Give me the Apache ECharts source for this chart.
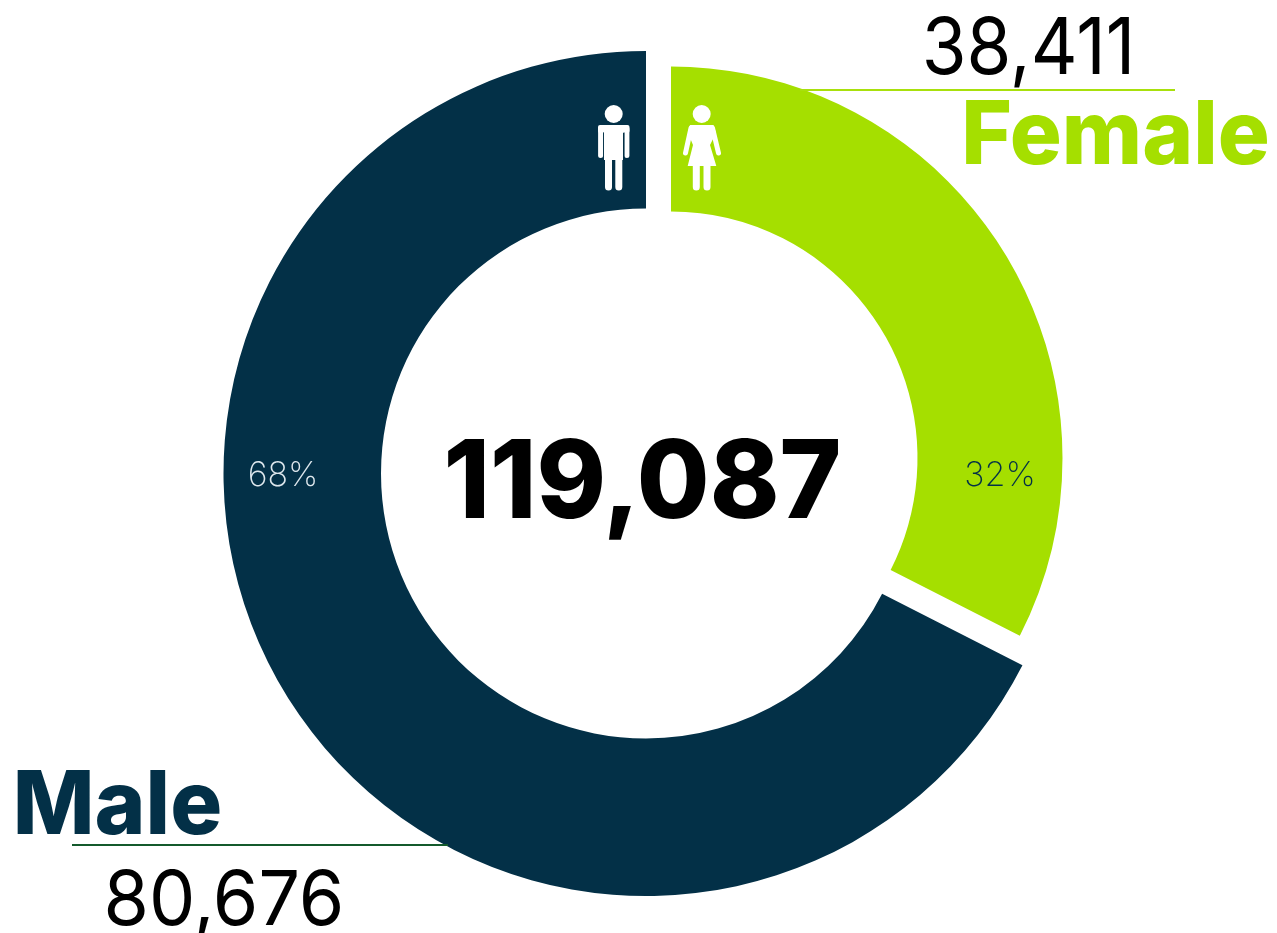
<!DOCTYPE html>
<html><head><meta charset="utf-8">
<style>html,body{margin:0;padding:0;background:#fff}#c{width:1277px;height:933px}</style>
<script src="https://cdn.jsdelivr.net/npm/echarts@6/dist/echarts.min.js"></script>
</head><body><div id="c"></div>
<script>
const categories = ['Female', 'Male'];
const arcShares = [32.5, 67.5];
const countLabels = ['38,411', '80,676'];
const shareLabels = ['32%', '68%'];
const totalLabel = '119,087';
const NAVY = '#033047', LIME = '#a5df00', FONT = 'Inter, "Liberation Sans", sans-serif';

function ring(center, radius, visibleIndex, color) {
  return {
    type: 'pie', center, radius, startAngle: 90, clockwise: true, silent: true,
    animation: false, label: {show: false}, labelLine: {show: false},
    emphasis: {disabled: true},
    data: categories.map((name, i) => ({
      name, value: arcShares[i],
      itemStyle: {color: i === visibleIndex ? color : 'rgba(0,0,0,0)'}
    }))
  };
}
function txt(text, x, y, size, weight, fill, sx) {
  return {type: 'text', silent: true, z: 20, x, y, scaleX: sx || 1, style: {
    text, x: 0, y: 0, fill, font: weight + ' ' + size + 'px ' + FONT,
    textAlign: 'center', textVerticalAlign: 'middle'}};
}
function rule(x1, x2, y, stroke) {
  return {type: 'line', silent: true, z: 20, shape: {x1, y1: y, x2, y2: y}, style: {stroke, lineWidth: 2}};
}
const white = {fill: '#fff'};
const limb = (points, w) => ({type: 'polyline', silent: true, z: 20, shape: {points},
  style: {stroke: '#fff', fill: null, lineWidth: w, lineCap: 'round', lineJoin: 'round'}});
const poly = points => ({type: 'polygon', silent: true, z: 20, shape: {points}, style: white});
const dot = (cx, cy) => ({type: 'circle', silent: true, z: 20, shape: {cx, cy, r: 9}, style: white});
const seam = x => ({type: 'line', silent: true, z: 21, shape: {x1: x, y1: 132, x2: x, y2: 158}, style: {stroke: NAVY, lineWidth: 1, opacity: 0.6}});

const maleIcon = [
  dot(613.7, 114),
  {type: 'rect', silent: true, z: 20, shape: {x: 598, y: 125, width: 31.5, height: 8, r: 2}, style: white},
  poly([[604, 128], [623, 128], [623, 160], [604, 160]]),
  limb([[600.6, 129], [600.6, 155.5]], 5),
  limb([[626.9, 129], [626.9, 155.5]], 5),
  limb([[608.5, 158], [608.5, 187]], 7),
  limb([[618.8, 158], [618.8, 187]], 7),
  seam(603.5), seam(624)
];
const femaleIcon = [
  dot(701.7, 114),
  poly([[690, 125], [713.5, 125], [716, 133], [710, 145], [716.3, 166], [687.7, 166], [693, 145], [688, 133]]),
  limb([[691, 128], [685.5, 153]], 5),
  limb([[712.5, 128], [718.5, 153]], 5),
  limb([[696.3, 165], [696.3, 187]], 7),
  limb([[707, 165], [707, 187]], 7)
];

const chart = echarts.init(document.getElementById('c'), null, {renderer: 'canvas'});
chart.setOption({
  backgroundColor: '#fff',
  animation: false,
  series: [
    ring([646, 473.5], [265, 422.5], 1, NAVY),
    ring([671, 458], [246.5, 391.5], 0, LIME)
  ],
  graphic: {elements: [
    rule(800, 1175, 90, '#a8e00c'),
    rule(72, 448, 845, '#145a2c'),
    txt(countLabels[0], 1028.5, 51, 78, 400, '#000', 0.93),
    txt(categories[0], 1115.5, 138, 88, 800, LIME, 0.985),
    txt(categories[1], 117.5, 808, 88, 800, NAVY, 0.985),
    txt(countLabels[1], 224, 902, 76, 400, '#000', 0.967),
    txt(totalLabel, 642.5, 486, 108, 800, '#000', 0.975),
    txt(shareLabels[0], 1000, 476, 34, 200, NAVY),
    txt(shareLabels[1], 283, 476, 34, 200, '#dfe8ee'),
    ...maleIcon, ...femaleIcon
  ]}
});
</script></body></html>
